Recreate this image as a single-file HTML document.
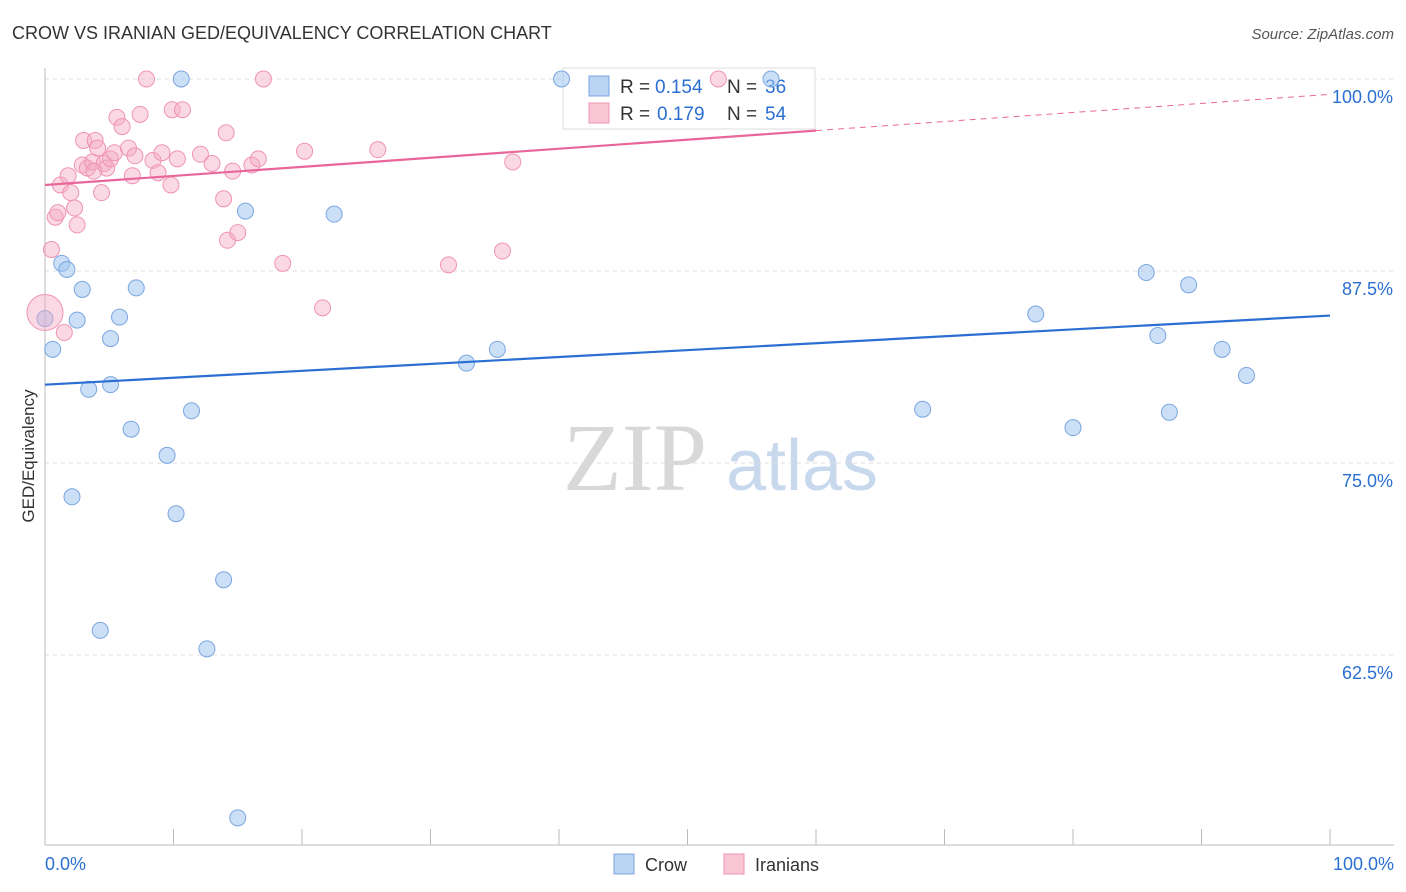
<!DOCTYPE html>
<html><head><meta charset="utf-8">
<style>
body{margin:0;background:#fff;font-family:"Liberation Sans",sans-serif;}
svg{display:block}
</style></head>
<body>
<svg id="chart" width="1406" height="892">
<text x="12" y="39" font-size="18" fill="#333">CROW VS IRANIAN GED/EQUIVALENCY CORRELATION CHART</text>
<text x="1394" y="39" font-size="15" fill="#555" font-style="italic" text-anchor="end">Source: ZipAtlas.com</text>
<text x="34" y="456" font-size="17" fill="#333" text-anchor="middle" transform="rotate(-90 34 456)">GED/Equivalency</text>
<g>
<text x="635" y="490" font-size="96" fill="#d8d8d8" font-family="Liberation Serif,serif" text-anchor="middle">ZIP</text>
<text x="802" y="490" font-size="72" fill="#c8d9ee" text-anchor="middle">atlas</text>
</g>
<g id="grid"></g>
<g>
<rect x="563" y="68" width="252" height="61" fill="#fff" stroke="#ddd"/>
<rect x="589" y="76" width="20" height="20" fill="#b9d3f3" stroke="#7aa6e0"/>
<rect x="589" y="103" width="20" height="20" fill="#f9c6d5" stroke="#ef94b2"/>
<text x="620" y="93" font-size="19" fill="#333">R =</text>
<text x="655" y="93" font-size="19" fill="#2a6fd1">0.154</text>
<text x="727" y="93" font-size="19" fill="#333">N =</text>
<text x="765" y="93" font-size="19" fill="#2a6fd1">36</text>
<text x="620" y="120" font-size="19" fill="#333">R =</text>
<text x="657" y="120" font-size="19" fill="#2a6fd1">0.179</text>
<text x="727" y="120" font-size="19" fill="#333">N =</text>
<text x="765" y="120" font-size="19" fill="#2a6fd1">54</text>
</g>
<g id="marks"></g><g id="lines"></g>
<g>
<rect x="614" y="854" width="20" height="20" fill="#b9d3f3" stroke="#7aa6e0"/>
<text x="645" y="871" font-size="18" fill="#333">Crow</text>
<rect x="724" y="854" width="20" height="20" fill="#f9c6d5" stroke="#ef94b2"/>
<text x="755" y="871" font-size="18" fill="#333">Iranians</text>
</g>
<text x="45" y="870" font-size="18" fill="#2a6fd1">0.0%</text>
<text x="1394" y="870" font-size="18" fill="#2a6fd1" text-anchor="end">100.0%</text>
</svg>
<script>
const yTicks=[100,87.5,75,62.5];
const yTickLabels=["100.0%","87.5%","75.0%","62.5%"];
const crowX=[0,0.6,1.3,1.7,2.9,2.5,3.4,5.1,5.1,5.8,7.1,6.7,9.5,2.1,10.2,11.4,10.6,15.6,13.9,12.6,4.3,15.0,22.5,32.8,35.2,40.2,56.5,68.3,77.1,80.0,85.7,86.6,87.5,89.0,91.6,93.5];
const crowY=[84.4,82.4,88.0,87.6,86.3,84.3,79.8,80.1,83.1,84.5,86.4,77.2,75.5,72.8,71.7,78.4,100,91.4,67.4,62.9,64.1,51.9,91.2,81.5,82.4,100,100,78.5,84.7,77.3,87.4,83.3,78.3,86.6,82.4,80.7];
const iranX=[0,0.5,0.8,1.0,1.5,1.2,1.8,2.0,2.3,2.5,2.9,3.0,3.3,3.7,3.9,4.1,4.4,4.6,4.8,5.1,5.4,5.6,6.0,6.5,6.8,7.0,7.4,7.9,8.4,8.8,9.1,9.8,9.9,10.3,10.7,12.1,13.0,13.9,14.1,14.2,14.6,15.0,16.1,16.6,17.0,18.5,20.2,21.6,25.9,31.4,35.6,36.4,52.4,3.8];
const iranY=[84.8,88.9,91.0,91.3,83.5,93.1,93.7,92.6,91.6,90.5,94.4,96.0,94.2,94.6,96.0,95.5,92.6,94.5,94.2,94.8,95.2,97.5,96.9,95.5,93.7,95.0,97.7,100,94.7,93.9,95.2,93.1,98.0,94.8,98.0,95.1,94.5,92.2,96.5,89.5,94.0,90.0,94.4,94.8,100,88.0,95.3,85.1,95.4,87.9,88.8,94.6,100,94.0];
const crowTrend=[80.1,84.6];
const iranTrend=[93.1,99.0];
const X=v=>45+v/100*1285, Y=v=>79+(100-v)/12.5*192;
const ns="http://www.w3.org/2000/svg";
function mk(t,a,p){const e=document.createElementNS(ns,t);for(const k in a)e.setAttribute(k,a[k]);p.appendChild(e);return e;}
const grid=document.getElementById('grid'),marks=document.getElementById('marks'),lines=document.getElementById('lines');
yTicks.forEach((t,i)=>{
 const l=mk('line',{x1:45,x2:1394,y1:Y(t),y2:Y(t),stroke:'#ddd','stroke-dasharray':'4,4'},grid);
 
 
 const tx=mk('text',{x:1393,y:Y(t)+24,'font-size':18,fill:'#2a6fd1','text-anchor':'end'},grid);
 tx.textContent=yTickLabels[i];
 
 
});
const ax=mk('line',{x1:45,x2:45,y1:68,y2:845,stroke:'#bbb'},grid);


const bx=mk('line',{x1:45,x2:1394,y1:845,y2:845,stroke:'#bbb'},grid);


for(let i=0;i<=10;i++){const t=mk('line',{x1:X(i*10),x2:X(i*10),y1:829,y2:845,stroke:'#bbb'},grid);
 
 }
crowX.forEach((x,i)=>{const c=mk('circle',{cx:X(x),cy:Y(crowY[i]),r:8,fill:'rgba(160,196,240,0.55)',stroke:'#7aa6e0','stroke-width':1},marks);
 
 });
iranX.forEach((x,i)=>{const c=mk('circle',{cx:X(x),cy:Y(iranY[i]),r:i==0?18:8,fill:'rgba(245,170,195,0.45)',stroke:'#ef94b2','stroke-width':1},marks);
 
 });
const l1=mk('line',{x1:X(0),y1:Y(crowTrend[0]),x2:X(100),y2:Y(crowTrend[1]),stroke:'#2a6fd1','stroke-width':2.2},lines);


const yi=p=>iranTrend[0]+(iranTrend[1]-iranTrend[0])*p/100;
const l2=mk('line',{x1:X(0),y1:Y(yi(0)),x2:X(60),y2:Y(yi(60)),stroke:'#e8669a','stroke-width':2.2},lines);


const l3=mk('line',{x1:X(60),y1:Y(yi(60)),x2:X(100),y2:Y(yi(100)),stroke:'#e8669a','stroke-width':1,'stroke-dasharray':'6,5'},lines);


</script>
</body></html>
